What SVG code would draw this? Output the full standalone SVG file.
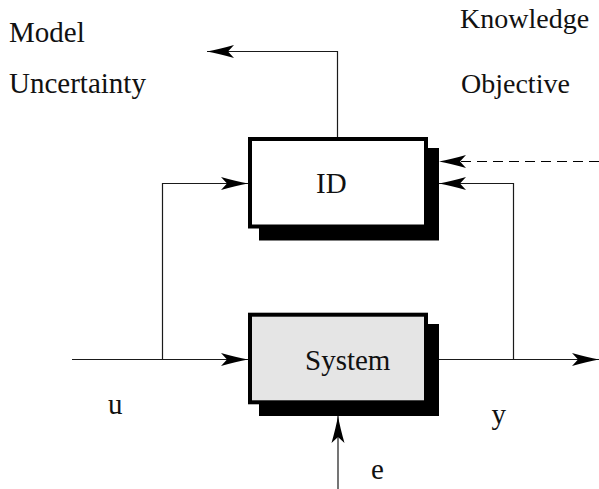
<svg xmlns="http://www.w3.org/2000/svg" width="599" height="489" viewBox="0 0 599 489">
  <style>
    text { font-family: 'Liberation Serif', 'Times New Roman', Times, 'DejaVu Serif', serif; font-size: 29px; fill: #111; }
    text.sm { font-size: 28px; }
    .wire { fill: none; stroke: #1a1a1a; stroke-width: 1.2; }
    .dash { stroke: #000; stroke-dasharray: 10 6; }
    .box { stroke: #000; stroke-width: 4; }
    .shadow { fill: #000; }
  </style>
  <defs>
    <marker id="head" viewBox="-28 -7 30 14" refX="0" refY="0" markerWidth="30" markerHeight="14" markerUnits="userSpaceOnUse" orient="auto">
      <path d="M0,0 Q-12,-2.2 -27,-6.5 L-21,0 L-27,6.5 Q-12,2.2 0,0 Z" fill="#000"/>
    </marker>
  </defs>

  <!-- side labels -->
  <g id="labels" font-family="Liberation Serif, serif">
    <text x="9" y="41.5">Model</text>
    <text x="9" y="93">Uncertainty</text>
    <text class="sm" x="460" y="28">Knowledge</text>
    <text class="sm" x="461" y="93">Objective</text>
    <text x="108" y="414">u</text>
    <text x="491.5" y="424">y</text>
    <text x="371" y="479">e</text>
  </g>

  <!-- connectors -->
  <g id="connectors">
    <!-- ID output: model uncertainty -->
    <path class="wire" d="M337.5,137 V51.5 H207" marker-end="url(#head)"/>
    <!-- knowledge / objective into ID -->
    <path class="wire dash" d="M599,161.5 H439" marker-end="url(#head)"/>
    <!-- input u -->
    <path class="wire" d="M72,359.5 H248" marker-end="url(#head)"/>
    <path class="wire" d="M162.5,359.5 V183.5 H248" marker-end="url(#head)"/>
    <!-- output y -->
    <path class="wire" d="M439,359.5 H599" marker-end="url(#head)"/>
    <path class="wire" d="M513.5,359.5 V183.5 H439" marker-end="url(#head)"/>
    <!-- disturbance e -->
    <path class="wire" d="M338,489 V416" marker-end="url(#head)"/>
  </g>

  <!-- identification block -->
  <g id="id-block">
    <rect class="shadow" x="259" y="148" width="180" height="92.5"/>
    <rect class="box" x="250" y="139" width="176" height="87.5" fill="#fff"/>
    <text x="316" y="193">ID</text>
  </g>

  <!-- plant block -->
  <g id="system-block">
    <rect class="shadow" x="259" y="324" width="180" height="92"/>
    <rect class="box" x="250" y="314.7" width="176" height="87.6" fill="#e5e5e5"/>
    <text x="305" y="370">System</text>
  </g>
</svg>
